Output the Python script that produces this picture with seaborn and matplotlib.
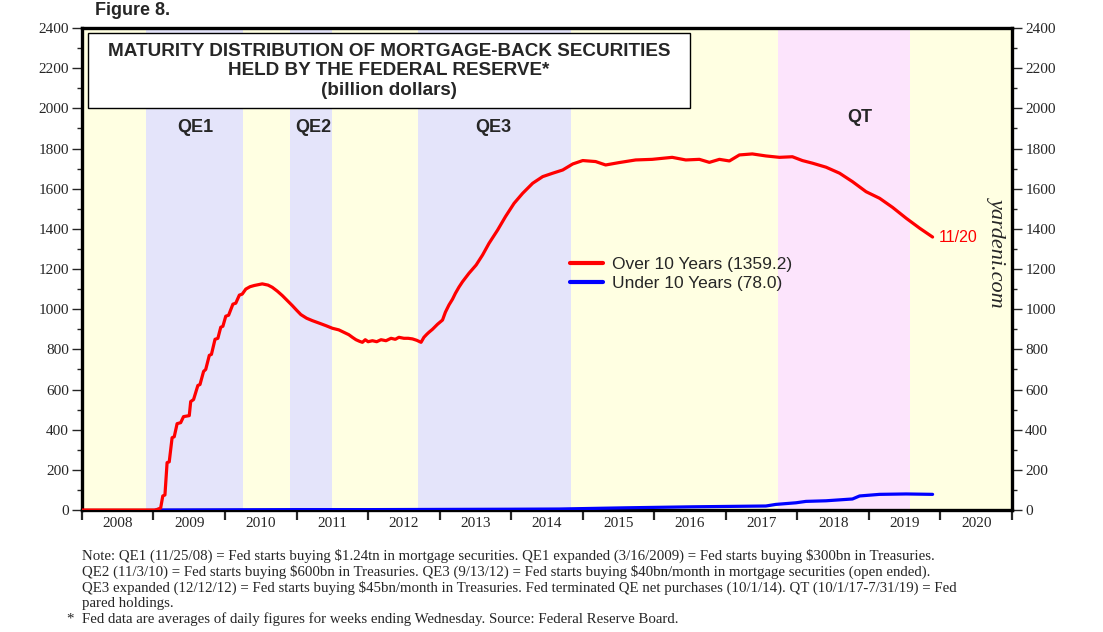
import numpy as np
import pandas as pd
import seaborn as sns
import matplotlib.pyplot as plt
from matplotlib.patches import Rectangle
from matplotlib.ticker import MultipleLocator, FixedLocator, NullFormatter

# data (decimal years, billion dollars)
over_dates = [2008.0, 2009.03, 2009.10, 2009.13, 2009.16, 2009.19, 2009.22, 2009.26, 2009.29,
              2009.33, 2009.38, 2009.42, 2009.50, 2009.52, 2009.56, 2009.62, 2009.65, 2009.70,
              2009.73, 2009.78, 2009.81, 2009.86, 2009.90, 2009.94, 2009.97, 2010.01, 2010.05,
              2010.11, 2010.15, 2010.20, 2010.24, 2010.29, 2010.35, 2010.41, 2010.52, 2010.60,
              2010.66, 2010.73, 2010.80, 2010.87, 2010.94, 2011.00, 2011.06, 2011.14, 2011.22,
              2011.32, 2011.41, 2011.50, 2011.59, 2011.66, 2011.73, 2011.78, 2011.83, 2011.88,
              2011.92, 2011.96, 2012.00, 2012.06, 2012.12, 2012.18, 2012.25, 2012.32, 2012.38,
              2012.43, 2012.50, 2012.56, 2012.62, 2012.68, 2012.74, 2012.78, 2012.82, 2012.85,
              2012.90, 2012.97, 2013.04, 2013.08, 2013.13, 2013.18, 2013.22, 2013.27, 2013.32,
              2013.41, 2013.51, 2013.60, 2013.69, 2013.81, 2013.92, 2014.04, 2014.16, 2014.30,
              2014.44, 2014.58, 2014.72, 2014.86, 2015.00, 2015.18, 2015.32, 2015.51, 2015.74,
              2015.97, 2016.25, 2016.44, 2016.63, 2016.77, 2016.91, 2017.05, 2017.19, 2017.37,
              2017.56, 2017.75, 2017.93, 2018.07, 2018.21, 2018.40, 2018.59, 2018.77, 2018.96,
              2019.15, 2019.33, 2019.52, 2019.71, 2019.89]
over_10y = [0, 0, 10, 70, 75, 236, 240, 360, 365,
            430, 435, 465, 470, 540, 550, 620, 625, 690,
            700, 770, 775, 850, 855, 910, 915, 965, 970,
            1025, 1030, 1070, 1075, 1100, 1112, 1118, 1126, 1120,
            1109, 1090, 1068, 1043, 1018, 995, 973, 955, 943,
            930, 918, 905, 897, 885, 873, 860, 848, 840,
            835, 848, 838, 843, 838, 848, 843, 855, 850,
            860, 855, 855, 852, 845, 835, 860, 875, 885,
            900, 925, 946, 985, 1021, 1050, 1079, 1110, 1137,
            1179, 1220, 1270, 1328, 1394, 1461, 1527, 1577, 1627,
            1660, 1677, 1693, 1723, 1740, 1735, 1718, 1730, 1743,
            1746, 1756, 1743, 1746, 1731, 1746, 1738, 1768, 1773,
            1763, 1756, 1759, 1740, 1727, 1707, 1677, 1635, 1585,
            1552, 1507, 1453, 1403, 1359.2]

under_dates = [2009.03, 2010.0, 2011.0, 2012.0, 2013.0, 2014.0, 2014.67, 2015.6, 2016.53,
               2017.56, 2017.70, 2017.98, 2018.12, 2018.40, 2018.77, 2018.87, 2019.15,
               2019.52, 2019.89]
under_10y = [0, 1, 2, 2, 3, 4, 5, 11, 16,
             20, 28, 36, 43, 46, 55, 70, 78,
             80, 78.0]

programs = ['QE1', 'QE2', 'QE3', 'QT']
prog_start = [2008.90, 2010.91, 2012.70, 2017.73]
prog_end = [2010.25, 2011.50, 2014.84, 2019.57]
prog_color = ['#E4E4FA', '#E4E4FA', '#E4E4FA', '#FCE4FC']
prog_label_x = [2009.58, 2011.24, 2013.75, 2018.87]
prog_label_y = [1905, 1905, 1905, 1955]

years = list(range(2008, 2021))

notes = [
    r"Note: QE1 (11/25/08) = Fed starts buying \$1.24tn in mortgage securities. QE1 expanded (3/16/2009) = Fed starts buying \$300bn in Treasuries.",
    r"QE2 (11/3/10) = Fed starts buying \$600bn in Treasuries. QE3 (9/13/12) = Fed starts buying \$40bn/month in mortgage securities (open ended).",
    r"QE3 expanded (12/12/12) = Fed starts buying \$45bn/month in Treasuries. Fed terminated QE net purchases (10/1/14). QT (10/1/17-7/31/19) = Fed",
    "pared holdings.",
]
footnote = "Fed data are averages of daily figures for weeks ending Wednesday. Source: Federal Reserve Board."

over_df = pd.DataFrame({'date': over_dates, 'value': over_10y})
under_df = pd.DataFrame({'date': under_dates, 'value': under_10y})

sns.set_style("ticks")
plt.rcParams['font.family'] = ['Liberation Sans', 'DejaVu Sans']

fig = plt.figure(figsize=(11.03, 6.32), dpi=100)
ax = fig.add_axes([0.0743, 0.193, 0.8432, 0.7627])
ax.set_facecolor('#FFFFE2')

for s, e, c in zip(prog_start, prog_end, prog_color):
    ax.axvspan(s, e, color=c, lw=0, zorder=0)

sns.lineplot(data=over_df, x='date', y='value', color='#FF0000', lw=2.3, ax=ax,
             label='Over 10 Years (1359.2)', zorder=4)
sns.lineplot(data=under_df, x='date', y='value', color='#0000FF', lw=2.3, ax=ax,
             label='Under 10 Years (78.0)', zorder=3)

ax.set_xlim(2008, 2021)
ax.set_ylim(0, 2400)
ax.set_xlabel('')
ax.set_ylabel('')

# x axis: tick marks at year boundaries, labels centred in each year
ax.xaxis.set_major_locator(FixedLocator(range(2008, 2022)))
ax.xaxis.set_major_formatter(NullFormatter())
ax.xaxis.set_minor_locator(FixedLocator([y + 0.5 for y in years]))
ax.set_xticklabels([str(y) for y in years], minor=True)
ax.tick_params(axis='x', which='major', direction='out', length=7.5, width=1.6, top=False)
ax.tick_params(axis='x', which='minor', length=0, pad=5, labelsize=11,
               labelfontfamily='Liberation Serif')

ax.yaxis.set_major_locator(MultipleLocator(200))
ax.yaxis.set_minor_locator(MultipleLocator(100))
ax.tick_params(axis='y', which='major', direction='out', length=7.5, width=1.0,
               left=True, right=True, labelleft=True, labelright=True, pad=2,
               labelsize=11, labelfontfamily='Liberation Serif')
ax.tick_params(axis='y', which='minor', direction='out', length=3.5, width=1.0,
               left=True, right=True)

for sp in ax.spines.values():
    sp.set_linewidth(2.4)
    sp.set_color('black')
    sp.set_visible(True)

# title box
ax.add_patch(Rectangle((0.0065, 0.834), 0.6475, 0.1556, transform=ax.transAxes,
                       facecolor='white', edgecolor='black', lw=1.0, zorder=5))
ax.text(0.330, 0.952, 'MATURITY DISTRIBUTION OF MORTGAGE-BACK SECURITIES', transform=ax.transAxes,
        ha='center', va='center', fontsize=13.6, fontweight='bold', zorder=6)
ax.text(0.330, 0.911, 'HELD BY THE FEDERAL RESERVE*', transform=ax.transAxes,
        ha='center', va='center', fontsize=13.6, fontweight='bold', zorder=6)
ax.text(0.330, 0.871, '(billion dollars)', transform=ax.transAxes,
        ha='center', va='center', fontsize=13.6, fontweight='bold', zorder=6)

for name, x, y in zip(programs, prog_label_x, prog_label_y):
    ax.text(x, y, name, ha='center', va='center', fontsize=13, fontweight='bold', zorder=6)

ax.text(2019.97, over_10y[-1], '11/20', color='#FF0000', ha='left', va='center', fontsize=11.5)
ax.text(2020.8, 1285, 'yardeni.com', rotation=270, ha='center', va='center',
        fontsize=16, fontstyle='italic', family='Liberation Serif')

leg = ax.legend(loc='center left', bbox_to_anchor=(0.517, 0.49), frameon=False,
                fontsize=12.5, handlelength=1.9, handletextpad=0.55, labelspacing=0.2,
                borderaxespad=0)
for h in leg.get_lines():
    h.set_linewidth(3)

fig.text(0.086, 0.984, 'Figure 8.', fontsize=13, fontweight='bold', ha='left', va='center')

note_y = [0.120, 0.095, 0.070, 0.045]
for txt, y in zip(notes, note_y):
    fig.text(0.0743, y, txt, fontsize=10.7, family='Liberation Serif', ha='left', va='center')
fig.text(0.060, 0.021, '*', fontsize=10.7, family='Liberation Serif', ha='left', va='center')
fig.text(0.0743, 0.021, footnote, fontsize=10.7, family='Liberation Serif', ha='left', va='center')

plt.savefig('out.png', dpi=100)
